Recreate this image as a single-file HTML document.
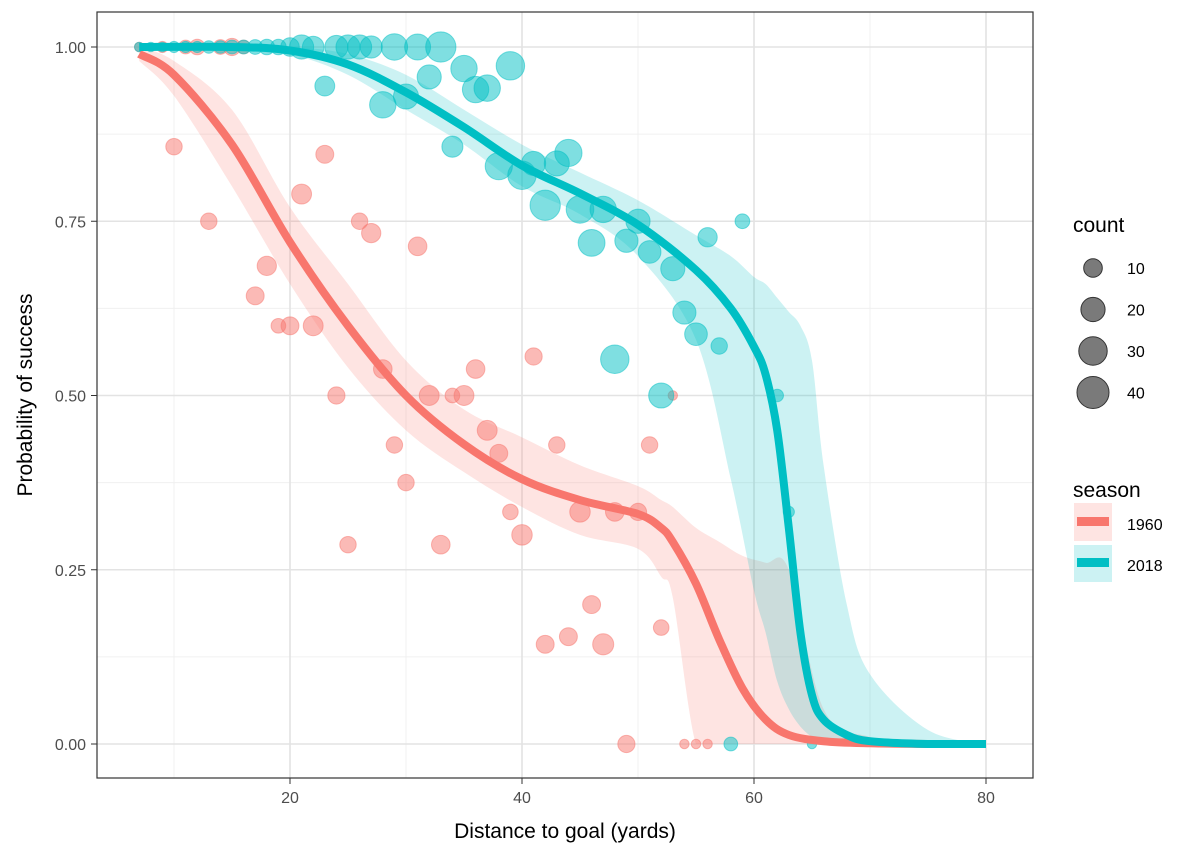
<!DOCTYPE html>
<html><head><meta charset="utf-8"><style>
body{margin:0;background:#fff;}
svg text{font-family:"Liberation Sans",Arial,sans-serif;}
</style></head><body>
<svg id="chart" width="1200" height="857" xmlns="http://www.w3.org/2000/svg">
<rect width="1200" height="857" fill="#fff"/>
<g id="grid"></g>
<g id="bands"></g>
<g id="points"></g>
<g id="lines"></g>
<rect x="97" y="12" width="936" height="766" fill="none" stroke="#333" stroke-width="1.2"/>
<g id="axes"></g>
<text x="565" y="838" font-size="21" text-anchor="middle" fill="#000">Distance to goal (yards)</text>
<text transform="translate(32,395) rotate(-90)" font-size="21" text-anchor="middle" fill="#000">Probability of success</text>
<g>
<text x="1073" y="232" font-size="21">count</text>
<g id="sizeLegend"></g>
</g>
<g>
<text x="1073" y="497" font-size="21">season</text>
<g>
<rect x="1074" y="503" width="38" height="38" fill="#F8766D" fill-opacity="0.2"/>
<rect x="1077" y="517" width="32" height="9" fill="#F8766D"/>
<text x="1127" y="530" font-size="16">1960</text></g>
<g>
<rect x="1074" y="545" width="38" height="37" fill="#00BFC4" fill-opacity="0.2"/>
<rect x="1077" y="558" width="32" height="9" fill="#00BFC4"/>
<text x="1127" y="571" font-size="16">2018</text></g>
</g>
</svg>
<script>
const xTicks=[20,40,60,80];
const xMinor=[10,30,50,70];
const yTicks=[0,0.25,0.5,0.75,1];
const yTickLabels=["0.00","0.25","0.50","0.75","1.00"];
const yMinor=[0.125,0.375,0.625,0.875];
const sizeLegendCounts=[10,20,30,40];

const pts1960X=[7,9,11,12,14,15,16,10,13,17,18,19,20,21,22,23,24,25,26,27,28,29,30,31,32,33,34,35,36,37,38,39,40,41,43,42,44,45,46,47,48,49,50,51,52,53,54,55,56];
const pts1960Y=[1,1,1,1,1,1,1,0.857,0.75,0.643,0.686,0.6,0.6,0.789,0.6,0.846,0.5,0.286,0.75,0.733,0.538,0.429,0.375,0.714,0.5,0.286,0.5,0.5,0.538,0.45,0.417,0.333,0.3,0.556,0.429,0.143,0.154,0.333,0.2,0.143,0.333,0,0.333,0.429,0.167,0.5,0,0,0];
const pts1960N=[1,2,4,6,5,8,4,7,7,9,11,5,9,12,12,9,8,7,7,11,10,7,7,10,12,10,5,12,10,12,9,6,13,8,7,9,9,13,9,14,10,8,8,7,6,1,1,1,1];

const pts2018X=[7,8,9,10,11,12,13,14,15,16,17,18,19,20,21,22,23,24,25,26,27,28,29,30,31,32,33,34,35,36,37,38,39,40,41,42,43,44,45,46,47,48,49,50,51,52,53,54,55,56,57,58,59,62,63,65];
const pts2018Y=[1,1,1,1,1,1,1,1,1,1,1,1,1,1,1,1,0.944,1,1,1,1,0.917,1,0.929,1,0.957,1,0.857,0.969,0.939,0.941,0.829,0.973,0.816,0.833,0.773,0.833,0.848,0.767,0.719,0.767,0.552,0.722,0.75,0.706,0.5,0.682,0.619,0.588,0.727,0.571,0,0.75,0.5,0.333,0];
const pts2018N=[1,1,1,2,2,2,3,3,4,4,5,6,6,10,20,15,12,18,20,20,16,25,25,22,24,20,35,14,25,25,25,27,30,30,20,35,22,27,28,26,25,30,18,20,17,22,20,18,17,11,7,4,5,3,2,1];

const fitX1960=[7,10,15,20,25,30,35,40,45,50,52,53,55,57,59,61,63,66,70,75,80];
const fit1960=[0.99,0.96,0.86,0.72,0.6,0.5,0.43,0.38,0.35,0.33,0.31,0.29,0.23,0.15,0.08,0.035,0.013,0.004,0.001,0,0];
const band1960Up=[1,0.98,0.91,0.77,0.66,0.55,0.48,0.44,0.4,0.37,0.35,0.34,0.31,0.29,0.27,0.26,0.25,0.05,0.01,0,0];
const band1960Lo=[0.98,0.93,0.8,0.66,0.54,0.45,0.39,0.34,0.3,0.28,0.24,0.21,0,0,0,0,0,0,0,0,0];

const fitX2018=[7,15,20,25,30,35,40,45,50,55,58,60,61,62,63,64,65,66,68,70,75,80];
const fit2018=[1,1,0.995,0.975,0.935,0.885,0.83,0.79,0.745,0.68,0.625,0.57,0.53,0.45,0.31,0.16,0.07,0.035,0.013,0.004,0,0];
const band2018Up=[1,1,1,0.99,0.96,0.91,0.86,0.82,0.78,0.73,0.7,0.67,0.66,0.64,0.62,0.6,0.55,0.4,0.2,0.1,0.02,0];
const band2018Lo=[1,1,0.99,0.96,0.91,0.86,0.8,0.76,0.7,0.58,0.38,0.22,0.16,0.09,0.05,0.025,0.01,0,0,0,0,0];

const X=d=>58+11.6*d, Y=p=>744-697*p, R=n=>2.6+2.12*Math.sqrt(n);
const NS="http://www.w3.org/2000/svg";
function mk(tag,attrs,parent){const e=document.createElementNS(NS,tag);for(const k in attrs)e.setAttribute(k,attrs[k]);parent.appendChild(e);return e;}
function smooth(P){let d='M'+P[0][0]+','+P[0][1];
for(let i=0;i<P.length-1;i++){const p0=P[Math.max(i-1,0)],p1=P[i],p2=P[i+1],p3=P[Math.min(i+2,P.length-1)];
const c1x=p1[0]+(p2[0]-p0[0])/6,c1y=p1[1]+(p2[1]-p0[1])/6,c2x=p2[0]-(p3[0]-p1[0])/6,c2y=p2[1]-(p3[1]-p1[1])/6;
d+='C'+c1x+','+Math.min(c1y,744)+' '+c2x+','+Math.min(c2y,744)+' '+p2[0]+','+p2[1];}return d;}
const grid=document.getElementById('grid');
xMinor.forEach(v=>{const l=mk('line',{x1:X(v),x2:X(v),y1:12,y2:778,stroke:'#f0f0f0','stroke-width':1},grid);

});
yMinor.forEach(v=>{const l=mk('line',{x1:97,x2:1033,y1:Y(v),y2:Y(v),stroke:'#f0f0f0','stroke-width':1},grid);

});
xTicks.forEach(v=>{const l=mk('line',{x1:X(v),x2:X(v),y1:12,y2:778,stroke:'#e3e3e3','stroke-width':1.6},grid);

});
yTicks.forEach(v=>{const l=mk('line',{x1:97,x2:1033,y1:Y(v),y2:Y(v),stroke:'#e3e3e3','stroke-width':1.6},grid);

});
const axes=document.getElementById('axes');
xTicks.forEach(v=>{mk('line',{x1:X(v),x2:X(v),y1:778,y2:784,stroke:'#333'},axes);
const t=mk('text',{x:X(v),y:803,'font-size':16,'text-anchor':'middle',fill:'#4d4d4d'},axes);t.textContent=v;

});
yTicks.forEach((v,i)=>{mk('line',{x1:91,x2:97,y1:Y(v),y2:Y(v),stroke:'#333'},axes);
const t=mk('text',{x:86,y:Y(v)+6,'font-size':16,'text-anchor':'end',fill:'#4d4d4d'},axes);t.textContent=yTickLabels[i];

});
function band(xs,up,lo,col,name){const U=xs.map((x,i)=>[X(x),Y(up[i])]);const L=xs.map((x,i)=>[X(x),Y(lo[i])]).reverse();
let d=smooth(U)+'L'+smooth(L).slice(1)+'Z';
const p=mk('path',{d:d,fill:col,'fill-opacity':0.2},document.getElementById('bands'));

}
band(fitX1960,band1960Up,band1960Lo,'#F8766D','band-1960');
band(fitX2018,band2018Up,band2018Lo,'#00BFC4','band-2018');
function pts(xs,ys,ns,col,name){const g=document.getElementById('points');xs.forEach((x,i)=>{
const c=mk('circle',{cx:X(x),cy:Y(ys[i]),r:R(ns[i]),fill:col,'fill-opacity':0.5,stroke:col,'stroke-opacity':0.5},g);

});}
pts(pts1960X,pts1960Y,pts1960N,'#F8766D','point-1960');
pts(pts2018X,pts2018Y,pts2018N,'#00BFC4','point-2018');
function line(xs,ys,col,name){const p=mk('path',{d:smooth(xs.map((x,i)=>[X(x),Y(ys[i])])),fill:'none',stroke:col,'stroke-width':8,'stroke-linejoin':'round'},document.getElementById('lines'));

}
line(fitX1960,fit1960,'#F8766D','fit-line-1960');
line(fitX2018,fit2018,'#00BFC4','fit-line-2018');
const sl=document.getElementById('sizeLegend');
sizeLegendCounts.forEach((n,i)=>{const y=268+41.5*i;
const c=mk('circle',{cx:1093,cy:y,r:R(n),fill:'#7a7a7a',stroke:'#333','stroke-width':1},sl);


const t=mk('text',{x:1127,y:y+6,'font-size':16},sl);t.textContent=n;

});
</script>
</body></html>
